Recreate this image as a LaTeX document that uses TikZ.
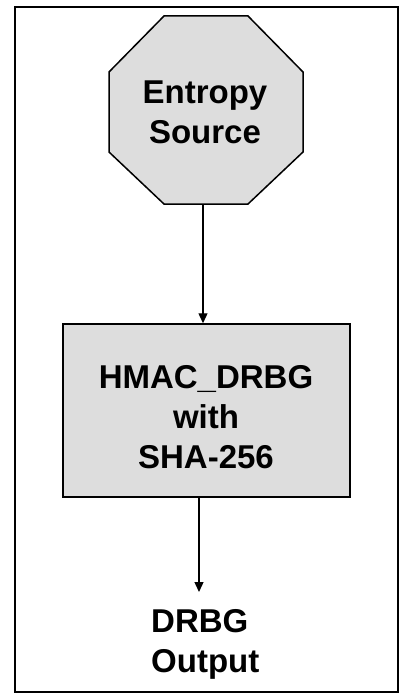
\documentclass[tikz,border=0pt]{standalone}
\usepackage{fontspec}
\setmainfont{Liberation Sans}
\usetikzlibrary{arrows.meta}
\definecolor{boxgray}{RGB}{221,221,221}
\tikzset{
  frame/.style={draw=black, line width=2pt},
  shapefill/.style={draw=black, line width=1.5pt, fill=boxgray, line join=miter},
  lbl/.style={font=\fontsize{33}{40}\selectfont\bfseries, align=center, inner sep=0pt},
  arr/.style={draw=black, line width=1.3pt, -{Triangle[length=10pt,width=9pt]}}
}
\begin{document}
\begin{tikzpicture}[x=1pt,y=-1pt]
\useasboundingbox (0,0) rectangle (401,698);
\draw[frame] (15,7) rectangle (398,692);
% octagon
\draw[shapefill] (164,16) -- (248,16) -- (303,72) -- (303,152) -- (248,204) -- (164,204) -- (109,152) -- (109,72) -- cycle;
\coordinate (octbot) at (203,204);
\node[lbl] (entropy) at (205,112) {Entropy\\Source};
% rectangle
\node[shapefill, minimum width=287pt, minimum height=173pt, inner sep=0pt] (hmac) at (206.5,410.5) {};
\node[lbl] (hmaclbl) at (206,417) {HMAC\_DRBG\\with\\SHA-256};
% arrows
\draw[arr] (octbot) -- (octbot |- hmac.north);
\coordinate (hmacout) at (199,497);
\node[lbl, align=left, anchor=north west] (out) at (151,609) {DRBG\\Output};
\draw[arr] (hmacout) -- (199,592);
\end{tikzpicture}
\end{document}
